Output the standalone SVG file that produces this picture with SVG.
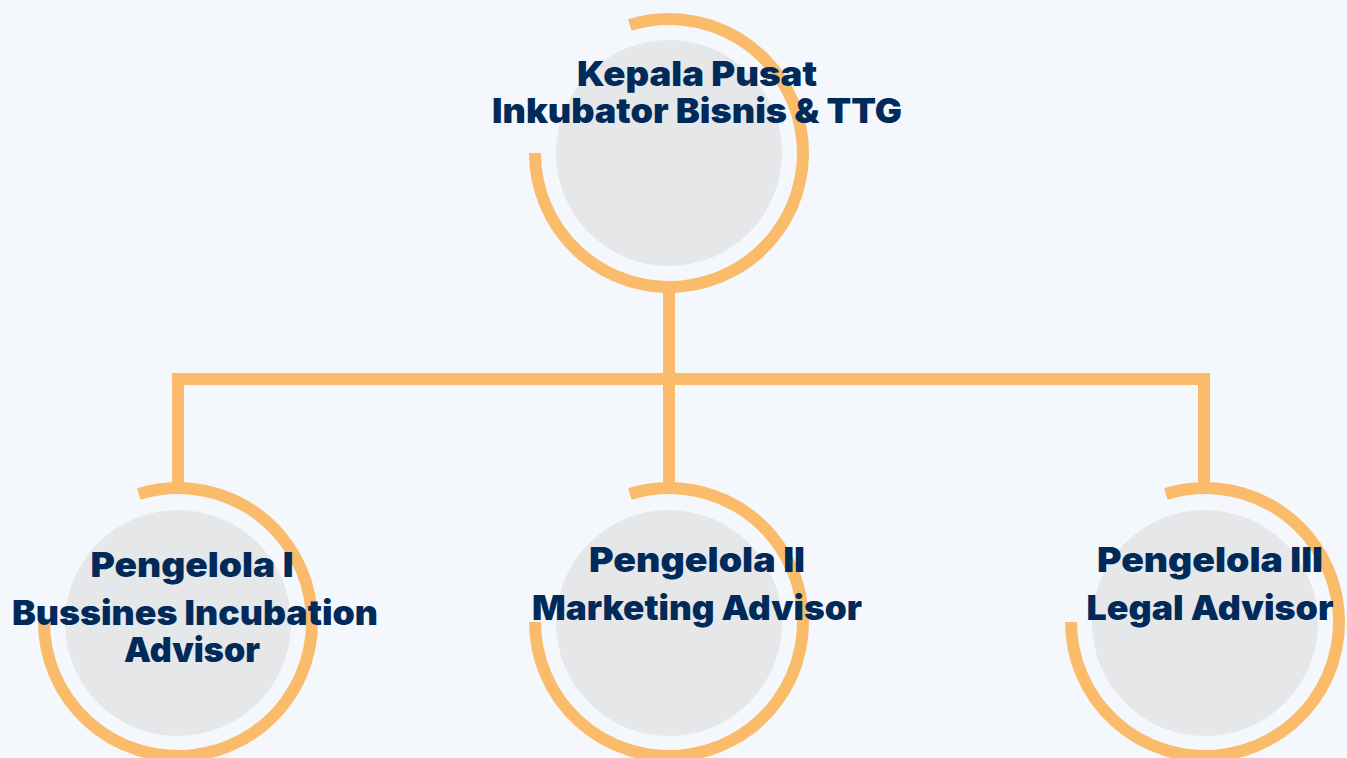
<svg xmlns="http://www.w3.org/2000/svg" width="1347" height="758" viewBox="0 0 1347 758">
<style>
.ring{fill:none;stroke:#fabb6b;stroke-width:12}
.disc{fill:#e6e7e9}
.conn{fill:none;stroke:#fabb6b;stroke-width:12}
.lbl{font-family:Inter,"Open Sans","Liberation Sans",sans-serif;font-weight:900;font-size:34px;fill:#002a5a;text-anchor:middle}
</style>
<rect width="1347" height="758" fill="#f4f8fc"/>
<g id="connectors">
<line class="conn" x1="669" y1="285" x2="669" y2="490"/>
<polyline class="conn" points="178,490 178,379 1204,379 1204,490"/>
</g>
<g id="node-kepala">
<circle class="disc" cx="669" cy="153" r="113"/>
<path class="ring" d="M629.8,24.9 A134,134 0 1 1 535,153"/>
<text class="lbl" x="697" y="86" textLength="240" lengthAdjust="spacingAndGlyphs">Kepala Pusat</text>
<text class="lbl" x="697" y="123" textLength="410" lengthAdjust="spacingAndGlyphs">Inkubator Bisnis &amp; TTG</text>
</g>
<g id="node-pengelola1">
<circle class="disc" cx="178" cy="623" r="113"/>
<path class="ring" d="M138.8,493.9 A134,134 0 1 1 44,622"/>
<text class="lbl" x="192" y="577" textLength="203" lengthAdjust="spacingAndGlyphs">Pengelola I</text>
<text class="lbl" x="195" y="625" textLength="366" lengthAdjust="spacingAndGlyphs">Bussines Incubation</text>
<text class="lbl" x="192" y="662" textLength="136" lengthAdjust="spacingAndGlyphs">Advisor</text>
</g>
<g id="node-pengelola2">
<circle class="disc" cx="669" cy="623" r="113"/>
<path class="ring" d="M629.8,493.9 A134,134 0 1 1 535,622"/>
<text class="lbl" x="697" y="572" textLength="216" lengthAdjust="spacingAndGlyphs">Pengelola II</text>
<text class="lbl" x="697" y="620" textLength="330" lengthAdjust="spacingAndGlyphs">Marketing Advisor</text>
</g>
<g id="node-pengelola3">
<circle class="disc" cx="1205" cy="623" r="113"/>
<path class="ring" d="M1165.8,493.9 A134,134 0 1 1 1071,622"/>
<text class="lbl" x="1210" y="572" textLength="226" lengthAdjust="spacingAndGlyphs">Pengelola III</text>
<text class="lbl" x="1210" y="620" textLength="247" lengthAdjust="spacingAndGlyphs">Legal Advisor</text>
</g>
</svg>
